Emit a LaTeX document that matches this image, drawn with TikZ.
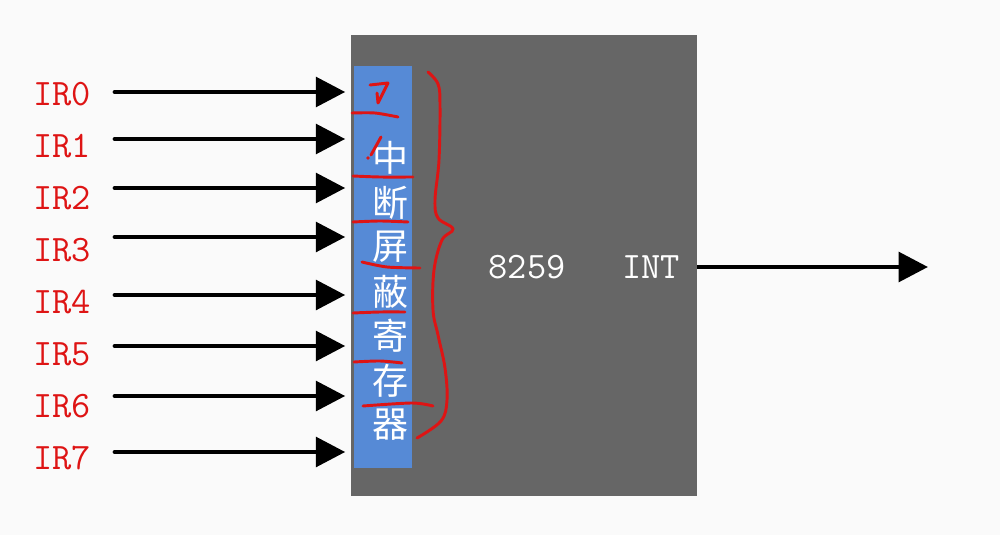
\documentclass[tikz,border=0pt]{standalone}
\usepackage{fontspec}
\newfontfamily\cjk{Noto Sans CJK SC}
\usetikzlibrary{arrows.meta, positioning}
\definecolor{chipgray}{RGB}{102,102,102}
\definecolor{maskblue}{RGB}{86,138,214}
\definecolor{inkred}{RGB}{222,20,20}
\definecolor{paper}{RGB}{250,250,250}

\begin{document}
\begin{tikzpicture}[x=0.75pt, y=-0.75pt,
		irlabel/.style={font=\ttfamily\fontsize{28}{28}\selectfont\addfontfeatures{LetterSpace=7}, text=inkred, anchor=west, inner sep=0pt},
		chiptext/.style={font=\ttfamily\fontsize{28}{28}\selectfont\addfontfeatures{LetterSpace=7}, text=white, inner sep=0pt},
		cjkchar/.style={font=\cjk\fontsize{27}{27}\selectfont, text=white, inner sep=0pt},
		sig/.style={line width=3.6pt, line cap=round, -{Triangle[length=22pt, width=22pt]}},
		ink/.style={draw=inkred, line width=2.2pt, line cap=round, line join=round}
	]
	\useasboundingbox[fill=paper] (0,0) rectangle (1000,535);

	% 8259 chip and mask register
	\node[fill=chipgray, minimum width=259.5pt, minimum height=345.75pt, inner sep=0pt] (chip) at (524,265.5) {};
	\node[fill=maskblue, minimum width=43.5pt, minimum height=301.5pt, inner sep=0pt] (mask) at (382.5,267) {};
	\foreach \c [count=\i from 0] in {中,断,屏,蔽,寄,存,器} {
			\node[cjkchar] (m\i) at (390, 158+44.5*\i) {\c};
		}
	\node[chiptext] (chipname) at (527,267) {8259};
	\node[chiptext] (int) at (651,267) {INT};

	% Interrupt request inputs
	\foreach \y [count=\i from 0] in {92,139,188,237,295,346,396,452} {
			\node[irlabel] (ir\i) at (33, 94+52.05*\i) {IR\i};
			\coordinate (s\i) at (115,\y);
			\draw[sig] (s\i) -- ([xshift=-6pt]s\i -| mask.west);
		}

	% Output
	\coordinate (out) at (928,267);
	\draw[sig, line cap=butt] (chip.east |- int) -- (out);

	% Hand-written marks
	\draw[ink] (370,85) -- (388,83) -- (378,103) -- (377,93);
	\draw[ink] (381,137) -- (371,155);
	\fill[inkred] (368,158) circle (1.8);
	\draw[ink] plot[smooth] coordinates {(352,113) (375,113) (398,117)};
	\draw[ink] plot[smooth] coordinates {(353,176) (380,177) (413,177)};
	\draw[ink] plot[smooth] coordinates {(353,222) (380,221) (408,222)};
	\draw[ink] plot[smooth] coordinates {(362,262) (387,267) (420,268)};
	\draw[ink] plot[smooth] coordinates {(353,313) (380,312) (405,312)};
	\draw[ink] plot[smooth] coordinates {(354,362) (380,361) (402,363)};
	\draw[ink] plot[smooth] coordinates {(363,406) (412,403) (433,406)};
	\draw[ink] plot[smooth, tension=0.6] coordinates {(428,72) (438,84) (440,105) (439,160) (435,200) (438,218) (453,229) (442,240) (434,270) (433,310) (438,335) (445,368) (447,400) (441,421) (417,438)};
\end{tikzpicture}
\end{document}
